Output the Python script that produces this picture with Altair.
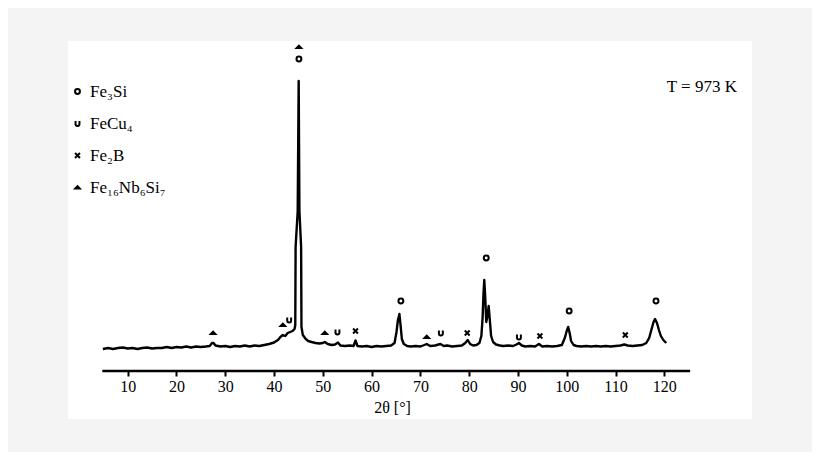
import altair as alt
import pandas as pd

# ---- XRD trace (2θ in degrees, intensity in arbitrary units)
two_theta = [4.9, 6, 7, 8, 9, 10, 11, 12, 13, 14, 15, 16, 17, 18, 19, 20, 21, 22, 23, 24, 25, 26,
             26.8, 27.3, 27.6, 28.0, 29, 30, 31, 32, 33, 34, 35, 36, 37, 38, 39, 40, 40.8, 41.3,
             41.8, 42.3, 42.8, 43.3, 43.8, 44.2, 44.35, 44.42, 44.85, 45.05, 45.2, 45.55, 45.62,
             45.9, 46.2, 46.5, 47.0, 47.7, 48.5, 49.3, 50.0, 50.4, 51.0, 51.8, 52.5, 53.1,
             53.6, 54.5, 55.5, 56.3, 56.7, 57.1, 58, 59, 60, 61, 62, 63, 64, 64.7, 65.1, 65.4, 65.7,
             65.95, 66.2, 66.6, 67.3, 68, 69, 70, 70.8, 71.3, 72, 73, 74.1, 74.8, 75.5, 76.5, 77.5,
             78.5, 79.2, 79.7, 80.2, 80.8, 81.5, 82.1, 82.5, 82.75, 82.95, 83.1, 83.3, 83.5, 83.75,
             84.0, 84.2, 84.5, 84.9, 85.5, 86.3, 87, 88, 89, 89.7, 90.2, 90.8, 91.5, 92.5, 93.5,
             94.3, 95, 96, 97, 98, 99, 99.6, 100.0, 100.3, 100.6, 100.9, 101.4, 102, 103, 104, 105,
             106, 107, 108, 109, 110, 111, 111.8, 112.5, 113.5, 114.5, 115.5, 116.3, 116.9, 117.4,
             117.8, 118.1, 118.5, 118.9, 119.3, 119.8, 120.4]
intensity = [22, 23, 22, 23, 23.5, 22.5, 23, 22, 23, 23.5, 22.5, 23, 23, 24, 23, 24, 23.5, 24.5, 23.5,
             24.5, 24, 24.5, 25, 28, 28, 25.5, 24.5, 25, 24, 25, 24.5, 25.5, 24.5, 25.5, 25, 26, 27,
             28.5, 31, 34, 36, 35, 38, 39, 40, 42, 46, 124, 160, 290, 160, 124, 44,
             36, 34, 32, 30, 29, 28, 27.5, 28, 29, 27, 26, 26.5, 28.5, 25.5, 25, 25.5, 25, 30.5, 25, 24.5, 25,
             24, 25, 24.5, 25, 25.5, 28, 39, 51, 57, 45, 32, 27, 25, 24.5, 25, 24.5, 26, 27, 25, 25.5,
             27, 25, 25.5, 24.5, 25, 25.5, 28, 31, 27, 25.5, 26, 28, 35, 53, 79, 91, 73, 49, 55, 65,
             53, 35, 29, 26.5, 25.5, 25, 25.5, 25, 26.5, 28, 25.5, 24.5, 25, 24.5, 27, 24.5, 25, 24.5,
             25, 26, 33, 40, 44, 38, 30, 26, 25, 24.5, 25, 24.5, 25, 24.5, 25, 24.5, 25, 25.5, 26.5,
             25.5, 25, 25.5, 26, 28, 33, 42, 49, 52, 48, 41, 35, 31, 28]

# ---- phase markers
phases = ["Fe₃Si", "FeCu₄", "Fe₂B", "Fe₁₆Nb₆Si₇"]
mark_phase = ["Fe₁₆Nb₆Si₇", "Fe₁₆Nb₆Si₇", "FeCu₄", "Fe₃Si", "Fe₁₆Nb₆Si₇", "Fe₁₆Nb₆Si₇", "FeCu₄",
              "Fe₂B", "Fe₃Si", "Fe₁₆Nb₆Si₇", "FeCu₄", "Fe₂B", "Fe₃Si", "FeCu₄", "Fe₂B", "Fe₃Si",
              "Fe₂B", "Fe₃Si"]
mark_theta = [27.5, 41.8, 43.1, 45.1, 45.1, 50.4, 53.0, 56.7, 66.0, 71.3, 74.2, 79.6, 83.5, 90.2,
              94.5, 100.5, 112.0, 118.3]
mark_int = [38, 46, 51, 312, 324, 38, 39, 40, 70, 34, 38, 38, 113, 34, 35, 60, 36, 70]

# ---- axis
tick_values = [10, 20, 30, 40, 50, 60, 70, 80, 90, 100, 110, 120]
axis_start, axis_end = 4.8, 125.3

trace = pd.DataFrame({"deg": two_theta, "I": intensity})
marks = pd.DataFrame({"deg": mark_theta, "I": mark_int, "phase": mark_phase})
axis_df = pd.DataFrame({"deg": [axis_start], "deg1": [axis_end], "I": [0]})

SERIF = "Liberation Serif"
xscale = alt.Scale(domain=[-2.24, 137.98], nice=False, zero=False)
yscale = alt.Scale(domain=[-48, 330], nice=False, zero=False)
xaxis = alt.Axis(values=tick_values, title="2θ [°]", domain=False, grid=False,
                 tickColor="black", tickWidth=2, tickSize=5, offset=-48,
                 labelFont=SERIF, labelFontSize=16, labelColor="black", labelPadding=2,
                 titleFont=SERIF, titleFontSize=16, titleFontWeight="normal", titleColor="black",
                 titleX=324, titleY=36, titleBaseline="middle")

def X():
    return alt.X("deg:Q", scale=xscale, axis=xaxis)

line = alt.Chart(trace).mark_line(color="black", strokeWidth=2.4, strokeJoin="round").encode(
    x=X(), y=alt.Y("I:Q", scale=yscale, axis=None))

axis_rule = alt.Chart(axis_df).mark_rule(color="black", strokeWidth=2.5).encode(
    x=X(), x2="deg1:Q", y=alt.Y("I:Q", scale=yscale, axis=None))

u_path = "M-0.8,-1L-0.8,0.2Q-0.8,1,0,1Q0.8,1,0.8,0.2L0.8,-1"
x_path = "M-1,-1L1,1M-1,1L1,-1"
tri_path = "M-0.9,0.4L0,-0.5L0.9,0.4Z"

points = alt.Chart(marks).mark_point(filled=False, size=24, strokeWidth=2, color="black",
                                     opacity=1).encode(
    x=X(), y=alt.Y("I:Q", scale=yscale, axis=None),
    shape=alt.Shape("phase:N",
                    scale=alt.Scale(domain=phases, range=["circle", u_path, x_path, tri_path]),
                    sort=phases,
                    legend=alt.Legend(title=None, orient="none", legendX=1, legendY=42,
                                      padding=0, labelFont=SERIF, labelFontSize=17,
                                      labelColor="black", symbolSize=24, symbolStrokeWidth=2,
                                      symbolStrokeColor="black", symbolOffset=0,
                                      labelOffset=4, rowPadding=14)))

chart = alt.layer(line, axis_rule, points).properties(
    width=684, height=378,
    title=alt.Title("T = 973 K", anchor="end", font=SERIF, fontSize=17, fontWeight="normal",
                    color="black", offset=-55, dx=-15),
    autosize=alt.AutoSizeParams(type="none"),
    padding={"left": 60, "top": 33, "right": 60, "bottom": 33},
    background="#f4f4f4",
).configure_view(stroke=None, fill="white")

chart.save("out.html", embed_options={"renderer": "svg", "actions": False})
